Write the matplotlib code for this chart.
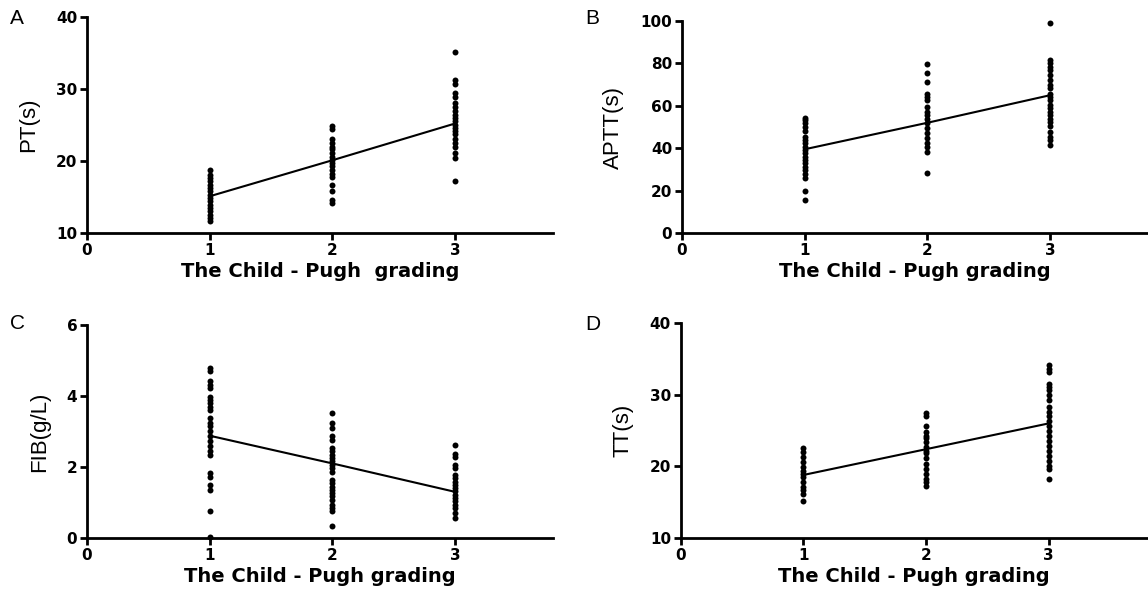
import matplotlib
matplotlib.use("Agg")
import matplotlib.pyplot as plt

# Child-Pugh grade (x positions of the columns)
grades = [1, 2, 3]

# PT(s) values
pt_g1 = [18.8, 18.1, 17.6, 17.2, 16.7, 16.3, 15.8, 15.3, 14.9, 14.4, 13.9, 13.5, 13.0, 12.5, 12.1, 11.6]
pt_g2 = [24.9, 24.4, 23.0, 22.5, 22.0, 21.6, 21.1, 20.6, 20.2, 19.7, 19.3, 18.8, 18.2, 17.8, 16.7, 15.9, 14.6, 14.2]
pt_g3 = [35.1, 31.2, 30.7, 29.4, 28.9, 28.0, 27.5, 26.9, 26.4, 26.0, 25.5, 25.0, 24.6, 24.1, 23.7, 23.1,
         22.5, 22.0, 21.1, 20.4, 17.2]
pt_mean = [15.1, 20.1, 25.2]

# APTT(s) values
aptt_g1 = [54.5, 53.3, 52.0, 49.8, 48.0, 45.5, 44.0, 42.3, 40.8, 39.0, 37.6, 36.0, 34.5, 33.0, 31.3, 29.5,
           28.0, 25.9, 19.6, 15.4]
aptt_g2 = [79.6, 75.5, 71.3, 65.8, 64.3, 62.7, 59.6, 57.2, 55.6, 53.6, 51.7, 49.4, 47.0, 44.7, 42.3, 40.8,
           38.4, 28.2]
aptt_g3 = [99.2, 81.5, 80.3, 78.4, 76.8, 74.5, 72.0, 69.7, 68.2, 65.8, 64.3, 62.7, 60.3, 58.8, 57.2, 55.6,
           54.0, 52.5, 50.5, 47.8, 45.5, 44.0, 41.3]
aptt_mean = [39.5, 52.0, 65.0]

# FIB(g/L) values
fib_g1 = [4.78, 4.69, 4.41, 4.31, 4.22, 3.98, 3.89, 3.80, 3.70, 3.60, 3.37, 3.23, 3.14, 3.00, 2.86, 2.72,
          2.58, 2.44, 2.34, 1.83, 1.73, 1.50, 1.34, 0.75, 0.03]
fib_g2 = [3.53, 3.23, 3.09, 2.86, 2.77, 2.53, 2.44, 2.34, 2.25, 2.16, 2.06, 1.97, 1.87, 1.64, 1.55, 1.45,
          1.36, 1.27, 1.17, 1.08, 0.94, 0.84, 0.75, 0.35]
fib_g3 = [2.61, 2.37, 2.28, 2.06, 1.97, 1.78, 1.69, 1.59, 1.50, 1.41, 1.31, 1.22, 1.12, 1.03, 0.94, 0.84,
          0.70, 0.56]
fib_mean = [2.88, 2.10, 1.30]

# TT(s) values
tt_g1 = [22.5, 22.0, 21.3, 20.6, 19.9, 19.4, 19.0, 18.5, 17.8, 17.1, 16.7, 16.2, 15.1]
tt_g2 = [27.4, 27.1, 25.7, 24.8, 24.3, 23.9, 23.4, 22.7, 22.2, 21.8, 21.1, 20.4, 19.7, 19.0, 18.3, 17.8, 17.3]
tt_g3 = [34.1, 33.6, 33.2, 31.5, 31.1, 30.6, 29.9, 29.2, 28.3, 27.6, 27.1, 26.4, 25.7, 25.0, 24.3, 23.6,
         22.9, 22.2, 21.5, 20.8, 20.1, 19.7, 18.3]
tt_mean = [18.8, 22.4, 26.0]

panels = [
    ("A", "PT(s)", [pt_g1, pt_g2, pt_g3], pt_mean, (10, 40), [10, 20, 30, 40], "The Child - Pugh  grading"),
    ("B", "APTT(s)", [aptt_g1, aptt_g2, aptt_g3], aptt_mean, (0, 100), [0, 20, 40, 60, 80, 100],
     "The Child - Pugh grading"),
    ("C", "FIB(g/L)", [fib_g1, fib_g2, fib_g3], fib_mean, (0, 6), [0, 2, 4, 6], "The Child - Pugh grading"),
    ("D", "TT(s)", [tt_g1, tt_g2, tt_g3], tt_mean, (10, 40), [10, 20, 30, 40], "The Child - Pugh grading"),
]

# axes rectangles in figure fraction
rects = [
    [0.0758, 0.6064, 0.406, 0.365],
    [0.594, 0.6064, 0.406, 0.358],
    [0.0758, 0.0912, 0.406, 0.360],
    [0.593, 0.0912, 0.406, 0.363],
]
letter_pos = [(0.009, 0.985), (0.510, 0.985), (0.009, 0.470), (0.510, 0.468)]

fig = plt.figure(figsize=(11.48, 5.92), dpi=100)

for (letter, ylab, groups, means, ylim, yticks, xlab), rect, lp in zip(panels, rects, letter_pos):
    ax = fig.add_axes(rect)
    for g, vals in zip(grades, groups):
        ax.plot([g] * len(vals), vals, "o", color="black", markersize=4.3, markeredgewidth=0,
                clip_on=False)
    ax.plot(grades, means, color="black", linewidth=1.5)

    ax.set_xlim(0, 3.8)
    ax.set_ylim(*ylim)
    ax.set_xticks([0, 1, 2, 3])
    ax.set_yticks(yticks)
    for side in ["top", "right"]:
        ax.spines[side].set_visible(False)
    for side in ["left", "bottom"]:
        ax.spines[side].set_linewidth(2.0)
    ax.tick_params(direction="out", length=5, width=2.0, pad=2, labelsize=11)
    for lab in ax.get_xticklabels() + ax.get_yticklabels():
        lab.set_fontweight("bold")
        lab.set_family("DejaVu Sans")

    ax.set_xlabel(xlab, fontsize=14, fontweight="bold", family="DejaVu Sans", labelpad=3)
    ax.set_ylabel(ylab, fontsize=16, family="Liberation Sans", labelpad=12)

    fig.text(lp[0], lp[1], letter, fontsize=15, family="Liberation Sans", va="top", ha="left")

fig.savefig("out.png", dpi=100)
